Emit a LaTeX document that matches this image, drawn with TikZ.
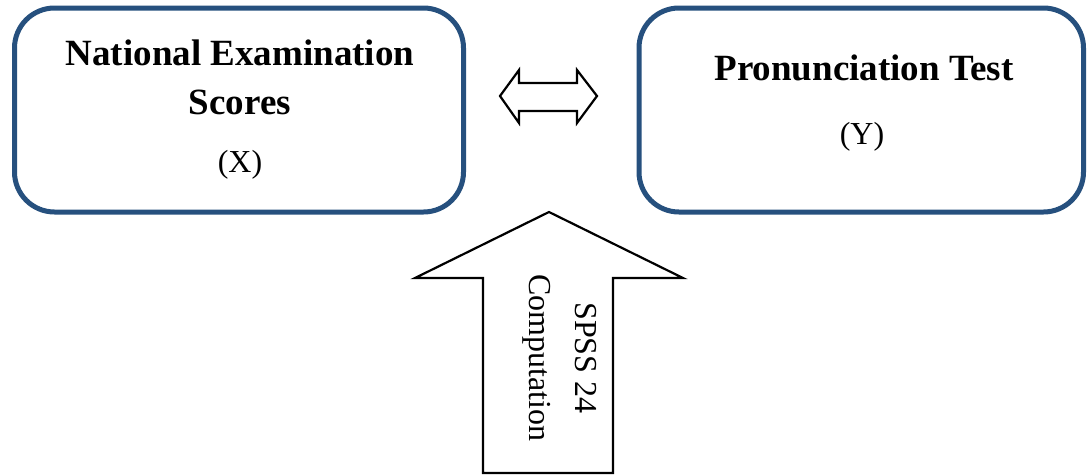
\documentclass[tikz,border=0pt]{standalone}
\usepackage{fontspec}
\setmainfont{Liberation Serif}
\definecolor{boxblue}{RGB}{38,80,126}
\tikzset{
  varbox/.style={draw=boxblue, line width=5pt, rounded corners=40pt, fill=white},
  titletext/.style={font=\fontsize{37}{49}\selectfont\bfseries, align=center, inner sep=0pt},
  vartext/.style={font=\fontsize{32}{40}\selectfont, inner sep=0pt},
  shapeline/.style={draw=black, line width=2.2pt, fill=white, line join=miter}
}
\begin{document}
\begin{tikzpicture}[x=1pt,y=-1pt]
\useasboundingbox (0,0) rectangle (1088,475);
% boxes
\draw[varbox] (14.5,8) rectangle (463.5,212);
\draw[varbox] (639,8) rectangle (1083.5,212);
\node[titletext] (ltitle) at (240,77) {National Examination\\Scores};
\node[vartext] (lvar) at (240,165) {(X)};
\node[titletext] (rtitle) at (864,68) {Pronunciation Test};
\node[vartext] (rvar) at (862,137) {(Y)};
% double arrow
\draw[shapeline] (500,96) -- (519,70) -- (519,83) -- (577,83) -- (577,70) -- (597,96)
  -- (577,123) -- (577,111) -- (519,111) -- (519,123) -- cycle;
% big up arrow
\draw[shapeline] (549,212) -- (683,278) -- (613,278) -- (613,473) -- (483,473)
  -- (483,278) -- (415,278) -- cycle;
\node[font=\fontsize{32}{46}\selectfont, align=center, rotate=-90, inner sep=0pt] (spss) at (560,358) {SPSS 24\\Computation};
\end{tikzpicture}
\end{document}
